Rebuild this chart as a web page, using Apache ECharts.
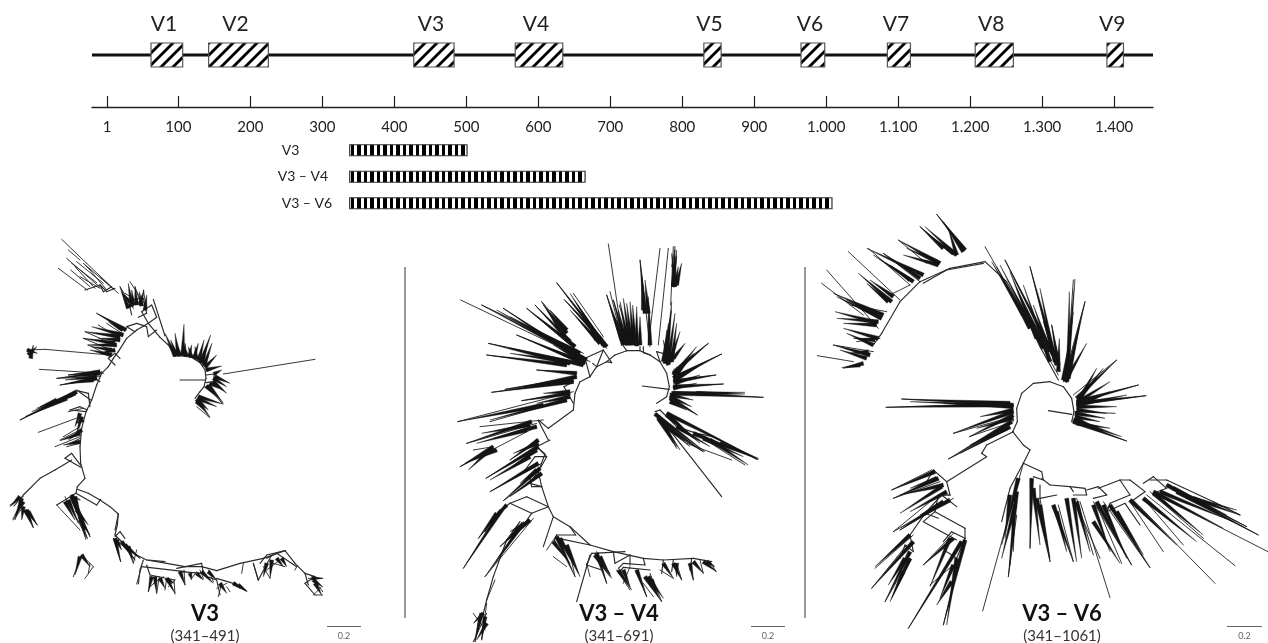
<!DOCTYPE html>
<html><head><meta charset="utf-8"><style>html,body{margin:0;padding:0;background:#fff}#c{width:1268px;height:643px}</style>
<script src="https://cdn.jsdelivr.net/npm/echarts@6/dist/echarts.min.js"></script></head><body><div id="c"></div>
<script>
const tickValues=[1,100,200,300,400,500,600,700,800,900,1000,1100,1200,1300,1400];
const tickLabels=['1','100','200','300','400','500','600','700','800','900','1.000','1.100','1.200','1.300','1.400'];
const regionNames=['V1','V2','V3','V4','V5','V6','V7','V8','V9'];
const regionStart=[62,142,427,568,830,965,1085,1207,1390];
const regionEnd=[106,225,483,634,854,998,1117,1260,1413];
const ampliconNames=['V3','V3 – V4','V3 – V6'];
const ampliconStart=[338,338,338];
const ampliconEnd=[501,665,1008];
const panelTitles=['V3','V3 – V4','V3 – V6'];
const panelRanges=['(341–491)','(341–691)','(341–1061)'];

/* Tree strokes, in tree units */
const v3Backbone=[
[585,505,600,485,612,470,618,445,615,420,600,398,575,382,548,378,525,378],
[525,378,505,345,480,322,445,280,410,300,380,325,355,365,340,385,325,410],
[325,410,305,430,290,465,275,510,258,545,245,595,240,650,242,700,255,745],
[232,778,265,790,300,810,330,830,355,852,352,885,345,915,375,945,410,975,440,990,500,1000,555,1010,605,1010,650,1022,720,1000,790,985,855,962,885,1000,915,1030,925,1065],
[540,450,615,450],[618,435,642,432,642,455,618,458],[255,745,232,770,228,790,290,825,302,808],
[242,712,195,685,215,670,245,710],[345,405,325,385,345,370,360,385],[300,455,280,440,305,425],
[272,510,230,480],[270,530,265,490,232,482],[258,545,210,540,240,530,262,540],
[445,280,425,245,455,225,470,262,445,280],[405,305,380,290,410,280,440,290,445,320,470,300],[460,208,495,318],
[300,165,320,185,345,175],[255,180,300,165,310,185,335,170],[395,255,385,210,430,205,440,250,415,262],
[215,690,165,720,120,745,70,795,42,828],[240,810,215,795],[228,790,170,825],
[430,990,420,1020,415,1062],[440,1005,450,1035,525,1050],[445,990,495,995],[425,1010,555,1025],[530,1015,605,1000,610,1030,540,1025],
[620,1040,650,1050,660,1095],[650,1045,700,1060,738,1082],[855,962,800,975,780,1000],[800,985,830,970,890,1010],[915,1030,945,1040,915,1060,945,1095],
[345,920,360,905,375,925],[355,852,345,900],[815,975,775,1050],[760,1000,775,1050]
];
const v3Tips=[
185,28,260,100,260,100,355,190,175,115,262,180,200,85,300,172,215,100,290,158,205,60,240,90,250,100,330,168,225,110,285,175,240,140,300,175,255,105,270,120,300,140,340,178,
212,120,270,170,230,95,310,160,270,120,320,180,
360,170,400,235,390,155,432,220,375,190,430,225,405,170,420,215,430,180,440,240,
290,250,378,300,255,305,345,345,250,325,330,358,295,285,360,325,320,280,368,312,265,345,325,375,
80,360,135,358,135,358,330,375,118,418,310,430,170,445,300,440,180,465,280,450,205,435,290,425,
115,607,228,565,60,570,230,485,180,630,240,600,165,650,240,620,200,650,240,640,205,545,250,535,190,620,240,590,210,640,240,625,
30,825,70,800,40,870,70,830,100,893,75,845,112,885,85,850,
215,800,270,920,170,825,240,900,195,800,262,925,220,1040,245,975,255,1045,280,1010,245,975,280,1010,265,1030,270,1000,
340,925,362,995,360,930,405,990,400,1000,410,960,345,930,420,985,
410,1062,425,1010,445,1085,455,1040,470,1090,478,1040,495,1080,500,1045,525,1092,522,1050,555,1065,552,1020,610,1045,600,1020,640,1055,625,1020,
460,1060,490,1040,450,1070,480,1045,505,1070,525,1050,575,1045,590,1025,
655,1100,665,1060,680,1070,690,1085,700,1060,720,1075,738,1082,720,1065,650,1075,680,1060,
725,1030,730,1000,760,1000,775,1052,790,1010,810,1045,820,1000,855,1010,885,1020,890,1010,800,1020,840,990,
940,1095,965,1070,925,1045,968,1045,945,1095,968,1095,950,1060,968,1085,
945,388,670,432,590,530,628,562,640,490,668,522,
];
const v3Spikes=[
525,378,495,310,530,378,512,330,535,375,525,310,540,378,530,340,548,375,552,283,553,378,556,340,560,378,548,335,568,380,575,345,575,382,565,350,582,385,595,340,590,388,585,350,596,392,612,330,602,398,632,315,606,400,622,345,612,408,636,340,615,412,650,375,618,420,665,408,
642,432,665,420,645,440,690,460,640,445,680,470,640,455,680,490,630,460,670,480,625,465,670,520,618,468,650,500,
595,500,668,522,592,505,650,530,590,508,630,562,595,512,625,540,590,515,612,540,
385,235,360,170,395,230,385,160,400,225,395,180,410,225,405,170,420,225,432,180,425,228,418,185,435,240,440,195,390,215,365,190,
378,300,290,250,370,315,275,290,360,320,255,305,345,340,250,325,350,345,262,345,335,360,275,350,335,375,270,360,368,300,325,275,360,330,295,325,345,360,300,370,
85,375,110,350,92,385,100,345,82,360,112,370,
300,430,170,445,300,425,205,435,290,445,180,465,290,440,195,450,280,450,210,460,
230,485,60,570,225,490,95,545,215,495,110,535,200,505,75,560,170,510,120,530,
240,550,225,590,245,560,230,610,250,570,228,580,245,600,205,630,240,610,180,632,240,635,190,645,
60,800,30,830,65,805,45,870,70,815,38,868,70,830,65,870,80,840,100,893,85,845,112,885,75,840,90,875,
215,795,270,920,215,800,255,900,220,810,262,925,225,800,245,880,205,810,235,880,195,815,225,870,230,840,265,885,240,860,258,930,240,870,270,915,
345,925,362,995,350,930,365,960,365,935,405,990,375,945,420,985,385,950,400,1000,
455,1040,445,1085,465,1040,470,1090,480,1045,495,1075,500,1045,525,1090,505,1050,522,1060,540,1025,555,1065,570,1030,575,1050,590,1030,610,1050,605,1025,640,1060,625,1025,650,1050,660,1060,680,1090,700,1060,738,1082,715,1065,742,1085,
800,1000,790,1040,815,990,810,1045,830,985,850,1010,845,985,860,1010,935,1045,968,1045,940,1050,968,1070,945,1060,965,1095,
245,975,270,1010,240,980,225,1035,
];

const v4Backbone=[
[740,520,770,500,778,470,770,430,750,395,720,375,690,362,650,362,615,375,590,395,560,410,540,440,510,455,495,490,490,540],
[697,468,778,478],
[490,540,415,595,385,570],[490,520,462,470,490,455],[540,440,525,385,580,360,605,398,590,395],[580,360,560,410,548,400],
[415,630,385,572],[420,630,380,650,405,672,385,725,395,770,415,830,430,860,480,890,540,945,610,965,700,985,760,990,850,985,905,995],
[380,650,410,680,388,720,360,760,395,770],[415,830,350,800,300,820,365,850,415,830],
[300,820,265,845,225,905],[365,850,340,885,310,910],
[430,860,410,920,400,950],[480,890,497,915,440,915,430,940],[540,945,445,925],
[610,965,615,1000,660,975,660,1005],[700,985,705,1005,640,1000,625,1015],[720,1020,640,1012,625,1030],[645,965,545,970,530,1005,575,1020],
[500,1115,540,975],[760,990,755,1030],[790,990,785,1025],[845,985,840,1020],
[735,545,750,540,800,590,860,610,910,620,1040,688],[740,550,935,800],
[330,875,290,930,250,1040,230,1110,220,1150,205,1175,195,1235],
[690,362,690,350],[720,375,700,368,700,350],[650,362,640,348],[750,395,740,365,775,375],
[395,770,365,770,360,745],[410,680,375,680,345,720]
];
const v4Tips=[
595,42,640,345,690,90,720,350,750,55,715,345,775,55,745,345,790,50,782,225,795,60,785,110,800,80,790,165,
600,185,640,345,590,195,630,330,628,225,660,340,610,210,650,340,
440,158,590,355,462,208,570,330,490,190,580,320,
152,210,540,395,215,225,520,370,280,235,500,378,350,235,480,345,375,225,495,350,395,215,470,300,
235,340,525,400,230,375,470,405,320,315,500,390,300,355,480,395,
285,478,500,440,245,487,490,455,380,420,500,430,335,512,470,490,
143,575,490,485,240,575,470,510,170,640,380,580,210,590,400,570,
150,710,380,590,190,660,250,650,228,745,385,645,240,785,395,700,280,812,395,730,300,690,385,630,
160,1015,275,840,205,925,290,825,225,1040,370,865,270,950,340,880,
230,1110,255,1050,190,1235,230,1150,190,1150,225,1200,215,1230,230,1120,
410,960,440,915,430,980,470,1010,495,1040,480,970,540,1040,530,1000,590,1060,560,965,600,1030,575,1000,
660,1080,620,1020,710,1100,680,1020,755,1115,720,1030,730,1100,700,1060,640,1060,660,1010,
750,1020,790,1045,815,1050,800,1000,850,1050,840,1000,880,1030,870,990,918,1025,900,995,
1060,502,780,490,940,462,790,470,918,435,790,450,935,372,790,440,895,340,790,420,862,555,790,505,
800,655,735,550,880,665,770,600,1005,705,855,610,965,690,830,640,
];
const v4Spikes=[
655,345,630,215,660,345,640,205,665,345,650,220,670,345,660,215,675,345,668,225,680,348,680,230,690,345,690,260,645,340,610,210,640,345,590,195,650,345,625,240,662,342,612,260,
705,250,690,90,715,250,705,150,700,240,695,140,720,345,715,200,
790,170,795,48,795,170,785,70,800,165,815,100,795,165,805,110,790,170,800,60,
770,400,785,215,775,400,795,250,770,395,775,280,780,395,810,305,785,395,800,280,790,385,825,340,775,405,760,330,765,400,770,300,760,395,785,240,
790,430,895,340,790,435,860,350,795,440,850,370,790,445,935,372,795,450,880,400,790,455,918,435,795,460,870,435,790,470,940,462,790,475,860,460,785,490,1060,502,790,490,1005,487,860,490,1005,492,780,495,850,510,780,500,845,530,780,505,862,555,780,515,830,540,
770,550,1045,688,850,610,1045,688,880,625,1000,680,900,630,1015,705,930,640,1045,685,800,590,900,650,780,560,850,625,770,555,870,640,
735,552,885,665,745,560,810,660,750,570,800,650,745,565,790,640,760,580,840,650,770,590,880,665,
590,350,440,158,580,345,480,190,575,330,465,210,585,350,500,220,570,340,480,240,560,330,520,250,
530,390,215,225,520,385,260,240,510,370,300,260,500,380,280,235,495,350,350,235,480,335,375,225,470,330,395,215,470,310,400,225,470,300,420,240,500,365,330,280,520,395,430,345,
525,400,320,315,520,405,300,355,480,400,235,340,470,395,300,370,470,405,230,375,500,390,390,345,
500,430,380,420,500,440,340,470,490,450,285,478,490,455,245,487,480,490,335,512,480,485,400,490,480,500,380,520,470,510,240,570,400,525,143,575,
365,575,170,640,360,585,215,610,380,590,250,625,350,600,200,640,
250,650,150,710,260,660,165,700,245,655,175,720,385,630,300,690,385,640,310,670,385,650,228,745,380,660,300,715,360,680,240,750,385,700,240,785,390,715,280,812,395,730,300,800,380,720,330,760,
260,850,205,925,275,840,160,1015,290,825,240,880,340,880,225,1040,360,870,270,950,330,890,290,930,345,880,300,905,
215,1150,195,1235,225,1160,215,1230,220,1150,190,1180,230,1180,200,1230,
440,920,495,1040,430,935,480,1000,450,925,505,1030,470,945,510,1040,560,970,590,1060,555,975,600,1040,570,980,605,1045,625,1020,665,1080,640,1020,660,1070,680,1020,710,1100,705,1040,755,1115,715,1040,760,1105,725,1050,745,1100,
760,1000,790,1045,790,1000,815,1050,800,1000,800,1040,840,1000,850,1050,850,995,880,1030,880,995,920,1025,890,995,915,1010,
];

const v6Backbone=[
[715,617,785,628],
[785,650,792,620,785,580,760,545,720,530,670,535,635,565,620,610,622,650,608,680,640,720,660,735,640,775],
[745,525,690,425,640,320,590,230,525,170],
[525,170,420,190,330,230,270,290,215,385,190,420],[520,175,410,195,340,235],
[640,775,695,800,700,825,670,815],[695,820,720,840,780,845,790,860],[690,840,690,880,740,870],
[780,845,825,850,830,870,790,870],[830,855,865,845,890,870,850,880],[865,850,930,825,960,870,900,895,890,920],[930,825,960,825,1005,860,970,885],
[1000,835,1030,815,1070,850,1030,865],[1020,825,1070,825,1210,890,1290,930],[890,920,945,895,990,960],
[610,680,530,720,515,745,530,755,410,830],[410,830,370,795,350,830],[410,830,420,870,390,870],[420,870,385,870,375,920],[440,905,395,870,345,925,385,940],[465,970,375,920,340,950,440,1005],
[465,970,465,1000,425,980,400,1010],[465,1000,440,1060,410,1040],[300,990,310,1040,285,1020,270,1060],
[345,925,300,990],[640,775,600,850,575,950]
];
const v6Tips=[
50,195,205,370,35,235,160,330,115,140,270,285,22,452,130,470,70,420,190,440,220,145,330,230,175,130,300,240,
380,28,465,135,330,65,430,150,265,105,350,175,
525,125,745,510,585,165,745,480,660,185,730,460,725,360,745,460,790,225,770,520,825,290,760,530,
920,465,790,570,985,540,800,590,1008,572,800,600,950,708,785,650,915,625,795,620,
228,607,600,595,275,582,610,600,430,685,610,635,478,695,610,650,415,762,600,670,
245,855,365,795,250,880,390,830,270,975,430,880,250,980,385,870,195,1090,310,990,185,1150,290,1020,225,1190,300,1060,
295,1270,455,1010,400,1260,465,1000,340,1080,430,985,360,1140,430,1080,
518,1218,640,775,595,1115,620,930,600,1080,610,950,660,1030,665,820,720,1070,690,880,
900,1178,810,890,790,1070,745,900,870,1060,790,880,965,1080,850,890,1020,1088,880,890,
1215,1135,970,885,1275,1082,1010,870,1345,990,1080,850,1374,1040,1030,865,1290,930,1210,890,1310,965,1070,840,
850,1050,800,880,935,1075,860,900,990,1040,900,900,1060,1040,960,890,1120,1020,1000,880,1180,1000,1020,860,
240,270,300,240,120,300,230,320,140,410,210,400,
];
const v6Spikes=[
740,480,660,185,730,450,585,165,720,470,640,240,700,430,570,180,680,400,600,200,660,370,560,185,640,330,545,170,745,480,725,360,740,470,700,350,735,470,690,250,720,440,670,300,700,420,640,300,680,380,620,250,745,500,748,400,
770,520,795,222,775,500,778,260,770,525,825,290,775,520,810,350,765,530,830,415,770,530,800,400,765,525,790,320,760,525,780,400,
800,580,920,465,805,585,880,490,810,580,860,490,800,590,985,540,805,590,900,530,800,595,1008,572,800,600,950,570,800,605,920,605,800,615,890,625,795,625,885,640,795,640,880,680,790,650,950,708,790,645,935,695,800,655,900,670,795,635,870,650,810,600,900,560,
465,135,380,28,460,140,400,50,440,150,345,65,430,145,355,90,440,150,415,70,400,130,330,65,
390,175,265,105,380,170,290,130,385,180,280,150,
340,210,170,130,330,220,220,145,310,230,190,150,300,225,240,180,
245,290,145,205,250,275,180,225,235,290,170,235,
220,330,70,265,215,340,80,275,205,330,110,285,190,350,75,320,205,350,80,340,200,360,100,355,
205,400,100,370,190,420,110,385,195,405,130,400,
180,450,70,420,170,460,90,435,160,475,100,490,150,480,95,488,175,440,120,445,
610,600,228,607,600,595,275,582,610,605,400,595,600,600,300,590,
610,620,430,685,610,630,478,695,610,615,510,635,610,640,500,670,605,650,415,762,600,665,450,745,590,670,480,720,
375,800,245,855,385,820,250,880,400,840,270,870,395,845,270,925,410,860,300,920,380,820,300,850,
420,885,250,980,400,890,270,975,385,900,330,930,
300,990,195,1085,310,1010,185,1150,300,1040,225,1190,300,1060,240,1190,280,1100,245,1180,285,1060,235,1140,
455,1010,295,1270,465,1005,400,1260,430,1000,340,1080,420,1000,360,1145,430,1080,390,1180,440,1060,410,1260,425,1130,380,1200,
625,820,575,1020,620,860,595,1115,615,900,575,1060,610,930,610,1040,600,870,585,1000,
665,820,660,1030,670,850,690,1020,680,880,720,1070,690,900,720,1060,
730,900,790,1070,740,920,770,1040,770,880,800,1070,790,880,815,1060,800,890,840,1040,
850,900,900,1040,860,890,965,1080,880,900,950,1060,900,900,1020,1088,920,920,1000,1050,850,950,930,1075,
960,885,1100,1020,1000,880,1160,1010,1030,865,1180,990,1030,860,1240,970,1070,840,1310,965,1100,860,1345,990,1130,875,1280,915,1150,880,1290,930,1090,850,1250,930,1050,860,1270,950,
];

const treeData=[
 {grid:2,w:1200,h:1239,left:0,top:230,backbone:v3Backbone,tips:v3Tips,spikes:v3Spikes},
 {grid:3,w:1170,h:1239,left:410,top:230,backbone:v4Backbone,tips:v4Tips,spikes:v4Spikes},
 {grid:4,w:1374,h:1314,left:810,top:205,backbone:v6Backbone,tips:v6Tips,spikes:v6Spikes}
];

function polySegs(polys){const o=[];polys.forEach(p=>{for(let i=0;i+3<p.length;i+=2)o.push([p[i],p[i+1],p[i+2],p[i+3]]);});return o;}
function flatSegs(a){const o=[];for(let i=0;i+3<a.length;i+=4)o.push([a[i],a[i+1],a[i+2],a[i+3]]);return o;}
function segRender(width,color){return function(p,api){
  const a=api.coord([api.value(0),api.value(1)]),b=api.coord([api.value(2),api.value(3)]);
  return {type:'line',shape:{x1:a[0],y1:a[1],x2:b[0],y2:b[1]},style:{stroke:color,lineWidth:width,lineCap:'round',fill:null},silent:true};
};}
function spikeRender(p,api){
  const a=api.coord([api.value(0),api.value(1)]),b=api.coord([api.value(2),api.value(3)]);
  const dx=b[0]-a[0],dy=b[1]-a[1],l=Math.hypot(dx,dy)||1,k=2/l;
  return {type:'polygon',shape:{points:[[a[0]-dy*k,a[1]+dx*k],[b[0],b[1]],[a[0]+dy*k,a[1]-dx*k]]},style:{fill:'#141414',stroke:'#141414',lineWidth:0.4},silent:true};
}

function hatch(){const s=12,c=document.createElement('canvas');c.width=s;c.height=s;const g=c.getContext('2d');
  g.fillStyle='#fff';g.fillRect(0,0,s,s);g.strokeStyle='#000';g.lineWidth=2.8;
  [[-s,s,s,-s],[0,s,s,0],[0,2*s,2*s,0]].forEach(l=>{g.beginPath();g.moveTo(l[0],l[1]);g.lineTo(l[2],l[3]);g.stroke();});return c;}
function bars(){const w=13,h=4,c=document.createElement('canvas');c.width=w;c.height=h;const g=c.getContext('2d');
  g.fillStyle='#fff';g.fillRect(0,0,w,h);g.fillStyle='#000';g.fillRect(0,0,3,h);g.fillRect(6,0,4,h);return c;}
const hatchP={image:hatch(),repeat:'repeat'},barP={image:bars(),repeat:'repeat'};

const grids=[{left:92,top:0,width:1061,height:107},{left:92,top:137,width:1061,height:79.5}];
const xAxes=[
 {gridIndex:0,type:'value',min:-20,max:1454,position:'bottom',splitLine:{show:false},
  axisLine:{show:true,onZero:false,lineStyle:{color:'#222',width:1.4}},
  axisTick:{show:true,inside:true,length:11,customValues:tickValues,lineStyle:{color:'#222',width:1.2}},
  axisLabel:{customValues:tickValues,margin:13,fontFamily:'Lato',fontSize:15,color:'#222',hideOverlap:false,
    formatter:v=>tickLabels[tickValues.indexOf(v)]}},
 {gridIndex:1,type:'value',min:-20,max:1454,show:false}];
const yAxes=[
 {gridIndex:0,type:'value',min:0,max:107,inverse:true,show:false},
 {gridIndex:1,type:'category',data:ampliconNames,inverse:true,show:false}];
const series=[
 {type:'line',xAxisIndex:0,yAxisIndex:0,symbol:'none',silent:true,data:[[-20,55],[1454,55]],lineStyle:{color:'#111',width:3.2},z:2},
 {type:'custom',xAxisIndex:0,yAxisIndex:0,clip:false,silent:true,z:3,
  data:regionNames.map((n,i)=>[regionStart[i],regionEnd[i]]),encode:{x:[0,1]},
  renderItem(p,api){const a=api.coord([api.value(0),55]),b=api.coord([api.value(1),55]);
   return {type:'group',children:[
    {type:'rect',shape:{x:a[0],y:a[1]-12,width:b[0]-a[0],height:24},style:{fill:hatchP,stroke:'#555',lineWidth:1.2}},
    {type:'text',style:{x:(a[0]+b[0])/2-3,y:24,text:regionNames[p.dataIndex],fontFamily:'Lato',fontSize:21,fill:'#222',align:'center',verticalAlign:'middle'}}]};}},
 {type:'custom',xAxisIndex:1,yAxisIndex:1,clip:false,silent:true,z:3,
  data:ampliconNames.map((n,i)=>[ampliconStart[i],ampliconEnd[i],i]),encode:{x:[0,1]},
  renderItem(p,api){const a=api.coord([api.value(0),api.value(2)]),b=api.coord([api.value(1),api.value(2)]);const n=ampliconNames[p.dataIndex];
   return {type:'group',children:[
    {type:'rect',shape:{x:a[0],y:a[1]-5.5,width:b[0]-a[0],height:11},style:{fill:barP,stroke:'#333',lineWidth:1.2}},
    {type:'text',style:{x:a[0]-(n==='V3 – V4'?72:68),y:a[1],text:n,fontFamily:'Lato',fontSize:14,fill:'#222',align:'left',verticalAlign:'middle'}}]};}}
];
treeData.forEach(t=>{
 grids.push({left:t.left,top:t.top,width:t.w/3,height:t.h/3});
 xAxes.push({gridIndex:t.grid,type:'value',min:0,max:t.w,show:false});
 yAxes.push({gridIndex:t.grid,type:'value',min:0,max:t.h,inverse:true,show:false});
 const common={type:'custom',xAxisIndex:t.grid,yAxisIndex:t.grid,clip:false,silent:true,z:4,encode:{x:[0,2],y:[1,3]}};
 series.push(Object.assign({},common,{data:polySegs(t.backbone),renderItem:segRender(1.15,'#2a2a2a')}));
 series.push(Object.assign({},common,{data:flatSegs(t.tips),renderItem:segRender(0.9,'#222')}));
 series.push(Object.assign({},common,{data:flatSegs(t.spikes),renderItem:spikeRender}));
});
const titles=panelTitles.map((t,i)=>({text:t,subtext:panelRanges[i],left:[200,614,1057][i],top:597,textAlign:'center',itemGap:2,
  textStyle:{fontFamily:'Lato',fontSize:22,fontWeight:'bold',color:'#111',lineHeight:24},
  subtextStyle:{fontFamily:'Lato',fontSize:15,color:'#333',lineHeight:16}}));
const gfx=[];
[405,805].forEach(x=>gfx.push({type:'line',shape:{x1:x,y1:267,x2:x,y2:618},style:{stroke:'#555',lineWidth:1.2}}));
[[327,361],[751,785],[1227,1262]].forEach(b=>{
 gfx.push({type:'line',shape:{x1:b[0],y1:626.5,x2:b[1],y2:626.5},style:{stroke:'#666',lineWidth:1}});
 gfx.push({type:'text',style:{x:(b[0]+b[1])/2,y:636,text:'0.2',fontFamily:'Lato',fontSize:9,fill:'#666',align:'center',verticalAlign:'middle'}});});
const chart=echarts.init(document.getElementById('c'),null,{renderer:'canvas'});
chart.setOption({animation:false,backgroundColor:'#fff',title:titles,grid:grids,xAxis:xAxes,yAxis:yAxes,series,graphic:gfx});
</script></body></html>
